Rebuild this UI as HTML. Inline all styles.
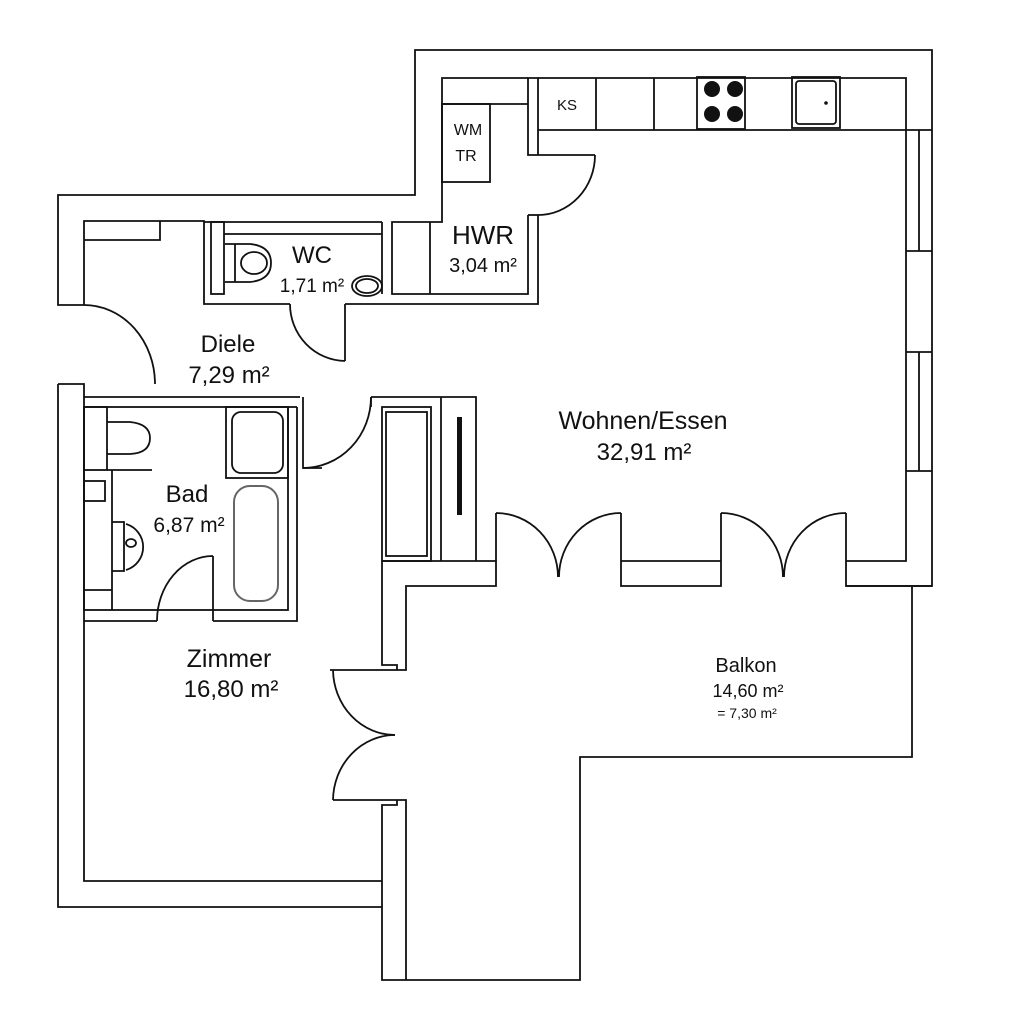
<!DOCTYPE html>
<html><head><meta charset="utf-8"><style>
html,body{margin:0;padding:0;background:#fff}
svg{display:block}
text{font-family:"Liberation Sans",sans-serif;fill:#111;text-anchor:middle}
</style></head><body>
<svg width="1024" height="1024" viewBox="0 0 1024 1024" xmlns="http://www.w3.org/2000/svg">
<rect width="1024" height="1024" fill="#fff"/>
<g fill="none" stroke="#111" stroke-width="1.8">
<polyline points="84,305 58,305 58,195 415,195 415,50 932,50 932,586 846,586 846,561"/>
<polyline points="58,384 58,907 382,907 382,980 580,980 580,757 912,757 912,586"/>
<polyline points="84,305 84,221 204,221 204,304 290,304"/>
<polyline points="345,304 538,304 538,215"/>
<polyline points="538,155 538,78 528,78 528,155 538,155"/>
<polyline points="528,215 538,215"/>
<polyline points="528,215 528,294 392,294 392,222 442,222 442,78 528,78"/>
<line x1="382" y1="222" x2="382" y2="294"/>
<line x1="204" y1="222" x2="382" y2="222"/>
<line x1="430" y1="222" x2="430" y2="294"/>
<line x1="442" y1="104" x2="528" y2="104"/>
<rect x="442" y="104" width="48" height="78"/>
<polyline points="538,78 906,78 906,561 846,561"/>
<line x1="538" y1="130" x2="932" y2="130"/>
<line x1="596" y1="78" x2="596" y2="130"/>
<line x1="654" y1="78" x2="654" y2="130"/>
<rect x="697" y="77" width="48" height="52"/>
<rect x="792" y="77" width="48" height="51"/>
<rect x="796" y="81" width="40" height="43" rx="3"/>
<line x1="906" y1="251" x2="932" y2="251"/>
<line x1="906" y1="352" x2="932" y2="352"/>
<line x1="906" y1="471" x2="932" y2="471"/>
<line x1="919" y1="130" x2="919" y2="251"/>
<line x1="919" y1="352" x2="919" y2="471"/>
<line x1="538" y1="155" x2="595" y2="155"/>
<path d="M595,155 A57,60 0 0 1 538,215"/>
<line x1="345" y1="304" x2="345" y2="361"/>
<path d="M290,304 A56,57 0 0 0 345,361"/>
<rect x="211" y="222" width="13" height="72"/>
<line x1="224" y1="234" x2="382" y2="234"/>
<path d="M225,244 L250,244 Q271,246 271,263 Q271,280 250,282 L225,282"/>
<line x1="235" y1="244" x2="235" y2="282"/>
<ellipse cx="254" cy="263" rx="13" ry="11"/>
<ellipse cx="367" cy="286" rx="15" ry="10"/>
<ellipse cx="367" cy="286" rx="11" ry="7"/>
<polyline points="84,240 160,240 160,221"/>
<path d="M84,305 A71,79 0 0 1 155,384"/>
<polyline points="58,384 84,384 84,397 300,397"/>
<polyline points="84,397 84,621 157,621"/>
<polyline points="213,621 297,621 297,407"/>
<polyline points="303,397 303,468 322,468"/>
<path d="M303,468 A68,71 0 0 0 371,397"/>
<rect x="84" y="407" width="204" height="203"/>
<line x1="288" y1="407" x2="297" y2="407"/>
<rect x="84" y="407" width="23" height="63"/>
<line x1="107" y1="470" x2="152" y2="470"/>
<path d="M107,422 L130,422 Q150,424 150,438 Q150,453 130,454 L107,454"/>
<line x1="112" y1="470" x2="112" y2="610"/>
<rect x="84" y="481" width="21" height="20"/>
<line x1="84" y1="590" x2="112" y2="590"/>
<path d="M112,522 L124,522 L124,571 L112,571"/>
<path d="M126,524 A24,24 0 0 1 126,570"/>
<ellipse cx="131" cy="543" rx="5" ry="4"/>
<rect x="226" y="407" width="62" height="71"/>
<rect x="232" y="412" width="51" height="61" rx="9"/>
<rect x="234" y="486" width="44" height="115" rx="16" stroke="#666" stroke-width="2"/>
<line x1="213" y1="556" x2="213" y2="621"/>
<path d="M157,621 A56,65 0 0 1 213,556"/>
<polyline points="371,397 476,397 476,561"/>
<line x1="371" y1="397" x2="371" y2="407"/>
<rect x="382" y="407" width="49" height="154"/>
<rect x="386" y="412" width="41" height="144"/>
<line x1="441" y1="397" x2="441" y2="561"/>
<polyline points="382,561 496,561 496,586 406,586 406,670 330,670"/>
<line x1="496" y1="513" x2="496" y2="561"/>
<polyline points="382,561 382,665 397,665 397,670"/>
<polyline points="621,513 621,586 721,586 721,513"/>
<line x1="621" y1="561" x2="721" y2="561"/>
<line x1="846" y1="513" x2="846" y2="561"/>
<path d="M496,513 A62,64 0 0 1 558,577"/>
<path d="M621,513 A62,64 0 0 0 559,577"/>
<path d="M721,513 A62,64 0 0 1 783,577"/>
<path d="M846,513 A62,64 0 0 0 784,577"/>
<line x1="846" y1="586" x2="932" y2="586"/>
<path d="M333,670 A62,66 0 0 0 395,735"/>
<path d="M333,800 A62,66 0 0 1 395,735"/>
<polyline points="333,800 406,800 406,980"/>
<polyline points="397,800 397,805 382,805 382,907"/>
<polyline points="84,621 84,881 382,881"/>
</g>
<rect x="457" y="417" width="5" height="98" fill="#111"/>
<g fill="#111">
<circle cx="712" cy="89" r="8"/><circle cx="735" cy="89" r="8"/>
<circle cx="712" cy="114" r="8"/><circle cx="735" cy="114" r="8"/>
<circle cx="826" cy="103" r="1.8"/>
</g>
<text x="468" y="135" font-size="16">WM</text>
<text x="466" y="161" font-size="16">TR</text>
<text x="567" y="110" font-size="15">KS</text>
<text x="312" y="263" font-size="24">WC</text>
<text x="312" y="292" font-size="19">1,71 m²</text>
<text x="483" y="244" font-size="26">HWR</text>
<text x="483" y="272" font-size="20">3,04 m²</text>
<text x="228" y="352" font-size="24">Diele</text>
<text x="229" y="383" font-size="24">7,29 m²</text>
<text x="187" y="502" font-size="24">Bad</text>
<text x="189" y="532" font-size="21">6,87 m²</text>
<text x="643" y="429" font-size="25">Wohnen/Essen</text>
<text x="644" y="460" font-size="24">32,91 m²</text>
<text x="229" y="667" font-size="25">Zimmer</text>
<text x="231" y="697" font-size="24">16,80 m²</text>
<text x="746" y="672" font-size="20">Balkon</text>
<text x="748" y="697" font-size="18">14,60 m²</text>
<text x="747" y="718" font-size="14">= 7,30 m²</text>
</svg>
</body></html>
